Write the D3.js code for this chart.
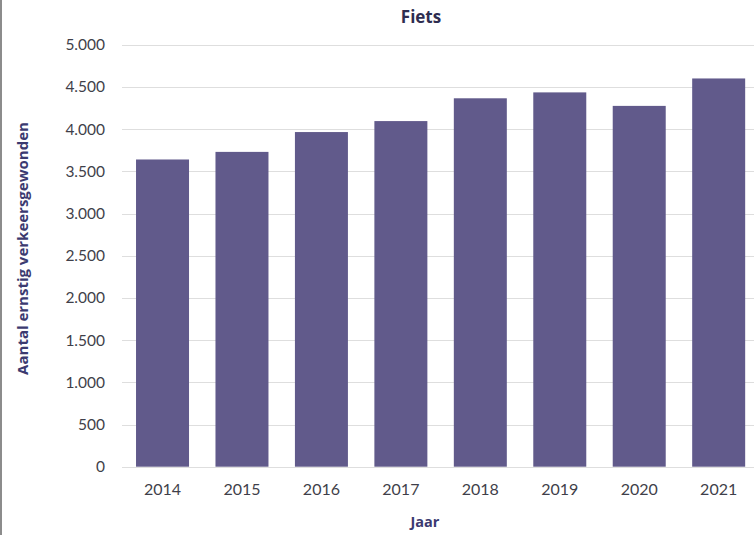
<!DOCTYPE html>
<html><head><meta charset="utf-8">
<script src="https://cdn.jsdelivr.net/npm/d3@7"></script>
<style>
html,body{margin:0;padding:0;background:#fff;}
svg{display:block;font-family:Lato,"Open Sans",sans-serif;}
</style></head>
<body>
<script>
const years = ["2014","2015","2016","2017","2018","2019","2020","2021"];
const values = [3640, 3730, 3965, 4095, 4365, 4435, 4275, 4600];
const yTicks = [0,500,1000,1500,2000,2500,3000,3500,4000,4500,5000];
const title = "Fiets";
const xTitle = "Jaar";
const yTitle = "Aantal ernstig verkeersgewonden";

const W = 754, H = 535;
const svg = d3.select("body").append("svg").attr("width", W).attr("height", H);

svg.append("rect").attr("x",0).attr("y",0).attr("width",W).attr("height",H).attr("fill","#fff");
svg.append("line").attr("x1",1).attr("x2",1).attr("y1",0).attr("y2",H)
  .attr("stroke","#8c8c8c").attr("stroke-width",2);

const x = d3.scaleBand().domain(years).range([122.8, 758.4]).paddingInner(0.333).paddingOuter(0.1665);
const y = d3.scaleLinear().domain([0,5000]).range([466.7, 44.7]);

const fmt = d => d3.format(",")(d).replace(/,/g,".");

// gridlines
svg.append("g").selectAll("line").data(yTicks).join("line")
  .attr("x1",122).attr("x2",W)
  .attr("y1",d=>Math.round(y(d))+0.5).attr("y2",d=>Math.round(y(d))+0.5)
  .attr("stroke","#dedede").attr("stroke-width",1);

// bars
svg.append("g").selectAll("rect").data(years).join("rect")
  .attr("x",d=>x(d)).attr("width",x.bandwidth())
  .attr("y",(d,i)=>y(values[i])).attr("height",(d,i)=>y(0)-y(values[i]))
  .attr("fill","#615a8b");

// y axis
const yAxis = d3.axisLeft(y).tickValues(yTicks).tickFormat(fmt).tickSize(0).tickPadding(0);
const gy = svg.append("g").attr("transform","translate(105,0)").call(yAxis);
gy.select(".domain").remove();
gy.selectAll("text").attr("font-size","15.5px").attr("fill","#3f3f4a").attr("font-family","Lato, sans-serif");

// x axis
const xAxis = d3.axisBottom(x).tickSize(0).tickPadding(0);
const gx = svg.append("g").attr("transform","translate(0,484)").call(xAxis);
gx.select(".domain").remove();
gx.selectAll("text").attr("font-size","16px").attr("fill","#3f3f4a").attr("font-family","Lato, sans-serif");

// titles
svg.append("text").attr("x",421).attr("y",23).attr("text-anchor","middle").attr("font-family","'Open Sans', sans-serif")
  .attr("font-size","17px").attr("font-weight","bold").attr("fill","#2e2d50").text(title);
svg.append("text").attr("x",425).attr("y",527).attr("text-anchor","middle").attr("font-family","'Open Sans', sans-serif")
  .attr("font-size","14.5px").attr("font-weight","bold").attr("fill","#3b3a70").text(xTitle);
svg.append("text").attr("transform","translate(28,248.5) rotate(-90)").attr("text-anchor","middle").attr("font-family","'Open Sans', sans-serif")
  .attr("font-size","15px").attr("font-weight","bold").attr("fill","#3b3a70").text(yTitle);
</script>
</body></html>
